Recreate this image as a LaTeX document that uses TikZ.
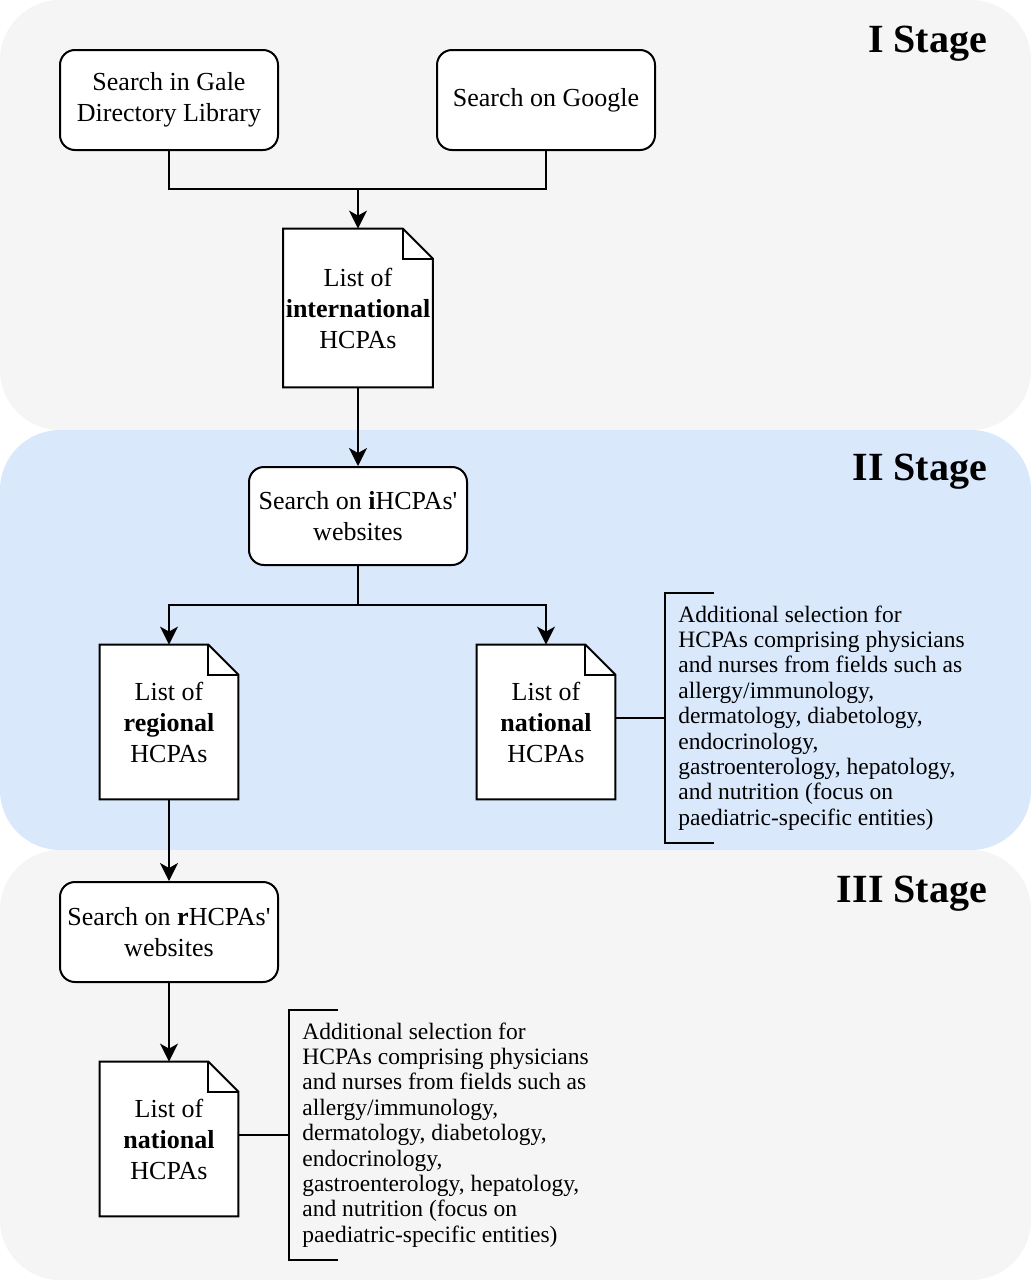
\documentclass[tikz,border=0pt]{standalone}
\usepackage{fontspec}
\setmainfont{Liberation Serif}
\usepackage{xcolor}
\usepackage{tikz}
\usetikzlibrary{positioning,calc,arrows.meta,backgrounds}

\definecolor{stagegrey}{HTML}{F5F5F5}
\definecolor{stageblue}{HTML}{DAE8FC}

\tikzset{
    stepbox/.style={draw,rounded corners=7.5pt,fill=white,line width=1pt,minimum width=109pt,minimum height=50pt,align=center,font=\fontsize{13}{15.5}\selectfont},
    listdoc/.style={minimum width=74.5pt,minimum height=79pt,inner sep=0pt,align=center,font=\fontsize{13}{15.5}\selectfont},
    notetext/.style={anchor=west,align=left,inner xsep=6.5pt,inner ysep=0pt,minimum height=125pt,font=\fontsize{11.75}{12.7}\selectfont},
    stagelabel/.style={anchor=base east,font=\bfseries\fontsize{20}{24}\selectfont},
    link/.style={line width=1pt},
    arr/.style={line width=1pt,-{Stealth[length=9pt,width=9pt,inset=2.5pt]}}
}

% document shape with folded corner, drawn behind the node text
\newcommand{\docframe}[1]{%
    \filldraw[fill=white,line width=1pt,line join=miter] (#1.north west) -- ([xshift=-15pt]#1.north east) -- ([yshift=-15pt]#1.north east) -- (#1.south east) -- (#1.south west) -- cycle;
    \draw[line width=1pt,line join=miter] ([xshift=-15pt]#1.north east) |- ([yshift=-15pt]#1.north east);
}
% bracket in front of an annotation
\newcommand{\notebracket}[1]{%
    \draw[line width=1pt,line join=miter] ([xshift=24.5pt]#1.north west) -- (#1.north west) -- (#1.south west) -- ([xshift=24.5pt]#1.south west);
}

\begin{document}
\begin{tikzpicture}[x=0.5pt,y=-0.5pt]
    \useasboundingbox (0,0) rectangle (1031,1280);
    % Stages
    \begin{scope}[on background layer]
        \fill[stagegrey,rounded corners=30pt] (0,0) rectangle (1031,430);
        \fill[stageblue,rounded corners=30pt] (0,430) rectangle (1031,850);
        \fill[stagegrey,rounded corners=30pt] (0,850) rectangle (1031,1280);
    \end{scope}
    \node[stagelabel] (s1) at (994,52) {I Stage};
    \node[stagelabel] (s2) at (994,480) {II Stage};
    \node[stagelabel] (s3) at (994,902) {III Stage};

    % I Stage
    \node[stepbox] (gale) at (169,100) {Search in Gale\\Directory Library};
    \node[stepbox] (google) at (546,100) {Search on Google};
    \coordinate (j1) at (358,189);
    \node[listdoc,minimum height=79pt] (intl) at (358,308) {List of\\\textbf{international}\\HCPAs};
    \draw[link] (gale.south) |- (j1);
    \draw[link] (google.south) |- (j1);
    \draw[arr] (j1) -- (intl.north);

    % II Stage
    \node[stepbox,minimum height=49pt] (ihcpa) at (358,516) {Search on \textbf{i}HCPAs\textquotesingle\\websites};
    \draw[arr] (intl.south) -- (ihcpa.north);
    \coordinate (j2) at (358,605);
    \node[listdoc,minimum width=69pt,minimum height=77pt] (regl) at (169,722) {List of\\\textbf{regional}\\HCPAs};
    \node[listdoc,minimum width=69pt,minimum height=77pt] (natl) at (546,722) {List of\\\textbf{national}\\HCPAs};
    \draw[link] (ihcpa.south) -- (j2);
    \draw[arr] (j2) -| (regl.north);
    \draw[arr] (j2) -| (natl.north);
    \node[notetext] (note1) at (665,718) {Additional selection for\\HCPAs comprising physicians\\and nurses from fields such as\\allergy/immunology,\\dermatology, diabetology,\\endocrinology,\\gastroenterology, hepatology,\\and nutrition (focus on\\paediatric-specific entities)};
    \notebracket{note1}
    \draw[link] (natl.east |- note1.west) -- (note1.west);

    % III Stage
    \node[stepbox] (rhcpa) at (169,932) {Search on \textbf{r}HCPAs\textquotesingle\\websites};
    \draw[arr] (regl.south) -- (rhcpa.north);
    \node[listdoc,minimum width=69pt,minimum height=77pt] (natl2) at (169,1139) {List of\\\textbf{national}\\HCPAs};
    \draw[arr] (rhcpa.south) -- (natl2.north);
    \node[notetext] (note2) at (289,1135) {Additional selection for\\HCPAs comprising physicians\\and nurses from fields such as\\allergy/immunology,\\dermatology, diabetology,\\endocrinology,\\gastroenterology, hepatology,\\and nutrition (focus on\\paediatric-specific entities)};
    \notebracket{note2}
    \draw[link] (natl2.east |- note2.west) -- (note2.west);

    % document frames behind the list texts
    \begin{scope}[on background layer]
        \docframe{intl}
        \docframe{regl}
        \docframe{natl}
        \docframe{natl2}
    \end{scope}
\end{tikzpicture}
\end{document}
